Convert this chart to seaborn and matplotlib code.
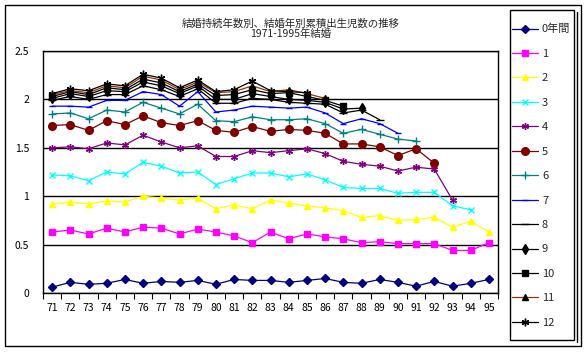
import numpy as np
import pandas as pd
import seaborn as sns
import matplotlib.pyplot as plt
from matplotlib.patches import Rectangle
from matplotlib.lines import Line2D

# marriage cohort years (1971-1995)
years = list(range(71, 96))
labels = ['0年間', '1', '2', '3', '4', '5', '6', '7', '8', '9', '10', '11', '12']

dur0 = [0.06, 0.11, 0.09, 0.10, 0.14, 0.10, 0.12, 0.11, 0.13, 0.09, 0.14, 0.13, 0.13,
        0.11, 0.13, 0.15, 0.11, 0.10, 0.14, 0.11, 0.07, 0.12, 0.07, 0.10, 0.14]
dur1 = [0.63, 0.65, 0.61, 0.67, 0.63, 0.68, 0.67, 0.61, 0.66, 0.63, 0.59, 0.52, 0.63,
        0.56, 0.61, 0.58, 0.56, 0.52, 0.53, 0.51, 0.51, 0.51, 0.44, 0.44, 0.52]
dur2 = [0.92, 0.94, 0.92, 0.95, 0.94, 1.00, 0.98, 0.96, 0.98, 0.87, 0.91, 0.87, 0.96,
        0.93, 0.90, 0.88, 0.85, 0.78, 0.80, 0.75, 0.76, 0.78, 0.68, 0.74, 0.63]
dur3 = [1.22, 1.21, 1.16, 1.25, 1.23, 1.35, 1.31, 1.24, 1.25, 1.12, 1.18, 1.24, 1.24,
        1.20, 1.23, 1.17, 1.09, 1.08, 1.08, 1.03, 1.04, 1.04, 0.90, 0.86]
dur4 = [1.50, 1.51, 1.49, 1.55, 1.53, 1.63, 1.56, 1.50, 1.52, 1.41, 1.41, 1.47, 1.45,
        1.47, 1.49, 1.44, 1.36, 1.33, 1.31, 1.26, 1.30, 1.28, 0.96]
dur5 = [1.73, 1.74, 1.68, 1.78, 1.74, 1.83, 1.76, 1.73, 1.78, 1.68, 1.66, 1.72, 1.67,
        1.69, 1.68, 1.65, 1.54, 1.54, 1.51, 1.42, 1.49, 1.34]
dur6 = [1.85, 1.86, 1.80, 1.89, 1.87, 1.97, 1.91, 1.85, 1.95, 1.78, 1.77, 1.82, 1.79,
        1.79, 1.80, 1.75, 1.65, 1.69, 1.64, 1.59, 1.57]
dur7 = [1.93, 1.93, 1.92, 1.99, 1.99, 2.08, 2.05, 1.93, 2.08, 1.87, 1.89, 1.93, 1.92,
        1.91, 1.92, 1.86, 1.75, 1.80, 1.75, 1.65]
dur8 = [1.99, 2.03, 2.00, 2.05, 2.05, 2.14, 2.10, 2.03, 2.11, 1.96, 1.96, 2.01, 2.00,
        1.97, 1.96, 1.95, 1.86, 1.89, 1.79]
dur9 = [2.01, 2.06, 2.03, 2.09, 2.08, 2.18, 2.14, 2.06, 2.14, 2.00, 2.00, 2.06, 2.03,
        2.00, 1.99, 1.97, 1.90, 1.91]
dur10 = [2.03, 2.08, 2.05, 2.12, 2.10, 2.21, 2.17, 2.08, 2.16, 2.04, 2.05, 2.10, 2.06,
         2.07, 2.03, 1.99, 1.93]
dur11 = [2.05, 2.09, 2.07, 2.14, 2.12, 2.24, 2.20, 2.10, 2.18, 2.07, 2.08, 2.14, 2.08,
         2.10, 2.06, 2.01]
dur12 = [2.06, 2.11, 2.09, 2.16, 2.14, 2.26, 2.22, 2.12, 2.20, 2.08, 2.10, 2.19, 2.09,
         2.08, 2.07]

series = [dur0, dur1, dur2, dur3, dur4, dur5, dur6, dur7, dur8, dur9, dur10, dur11, dur12]

line_colors = ['#000080', '#FF00FF', '#FFFF00', '#00FFFF', '#800080', '#800000', '#008080',
               '#0000FF', 'black', 'black', 'black', '#993300', 'black']
marker_colors = ['#000080', '#FF00FF', '#FFFF00', '#00FFFF', '#800080', '#800000', '#008080',
                 '#0000FF', 'black', 'black', 'black', 'black', 'black']
markers = ['D', 's', '^', 'x', (6, 2, 0), 'o', '+', '_', '_', 'd', 's', '^', (6, 2, 0)]
msizes = [4.5, 5, 5, 5, 5, 5.5, 6, 4, 6, 5.5, 5, 5, 5.5]

sns.set_theme(style='white')
plt.rcParams['font.family'] = ['Noto Sans CJK JP', 'DejaVu Sans']

fig = plt.figure(figsize=(5.85, 3.54), dpi=100)
ax = fig.add_axes([43 / 585, 1 - 293 / 354, 455 / 585, 242 / 354])

for i, vals in enumerate(series):
    sns.lineplot(x=years[:len(vals)], y=vals, ax=ax, color=line_colors[i], lw=0.9,
                 marker=markers[i], markersize=msizes[i], markeredgewidth=1.0,
                 markerfacecolor=marker_colors[i], markeredgecolor=marker_colors[i],
                 label=labels[i], legend=False)

ax.set_xlim(70.5, 95.5)
ax.set_ylim(0, 2.5)
ax.set_yticks([0, 0.5, 1, 1.5, 2, 2.5])
ax.set_yticklabels(['0', '0.5', '1', '1.5', '2', '2.5'])
ax.set_xticks(years)
ax.set_xticklabels([str(y) for y in years])
ax.set_xticks(np.arange(70.5, 96, 1), minor=True)
ax.tick_params(axis='x', which='major', length=0, labelsize=7.5, pad=7, colors='black')
ax.tick_params(axis='x', which='minor', length=4, width=0.8, direction='out', bottom=True, color='black')
ax.tick_params(axis='y', length=0, labelsize=7.5, pad=10, colors='black')
ax.yaxis.grid(True, color='black', lw=1.0)
ax.set_axisbelow(True)
for s in ax.spines.values():
    s.set_color('black')
    s.set_linewidth(1.0)
ax.set_xlabel('')
ax.set_ylabel('')

fig.text(291 / 585, 1 - 24 / 354, '結婚持続年数別、結婚年別累積出生児数の推移', ha='center', va='center', fontsize=7.5)
fig.text(291 / 585, 1 - 34 / 354, '1971-1995年結婚', ha='center', va='center', fontsize=7.5)

handles, lbls = ax.get_legend_handles_labels()
leg = fig.legend(handles, lbls, loc='upper left', bbox_to_anchor=(512 / 585, 1 - 24 / 354),
                 bbox_transform=fig.transFigure, borderaxespad=0, fontsize=8,
                 labelspacing=1.30, handlelength=2.3, handletextpad=0.4,
                 borderpad=0, frameon=False)

# legend box (drawn by hand, with the doubled right edge)
fig.patches.append(Rectangle((510 / 585, 1 - 340 / 354), 64 / 585, 330 / 354,
                             transform=fig.transFigure, fill=False, edgecolor='black', lw=1.0))
fig.lines.append(Line2D([577 / 585, 577 / 585], [1 - 342 / 354, 1 - 12 / 354],
                        transform=fig.transFigure, color='black', lw=1.0))

# outer chart border
fig.patches.append(Rectangle((5 / 585, 1 - 346 / 354), 576 / 585, 341 / 354,
                             transform=fig.transFigure, fill=False, edgecolor='black', lw=1.0))

fig.savefig('out.png', dpi=100)
